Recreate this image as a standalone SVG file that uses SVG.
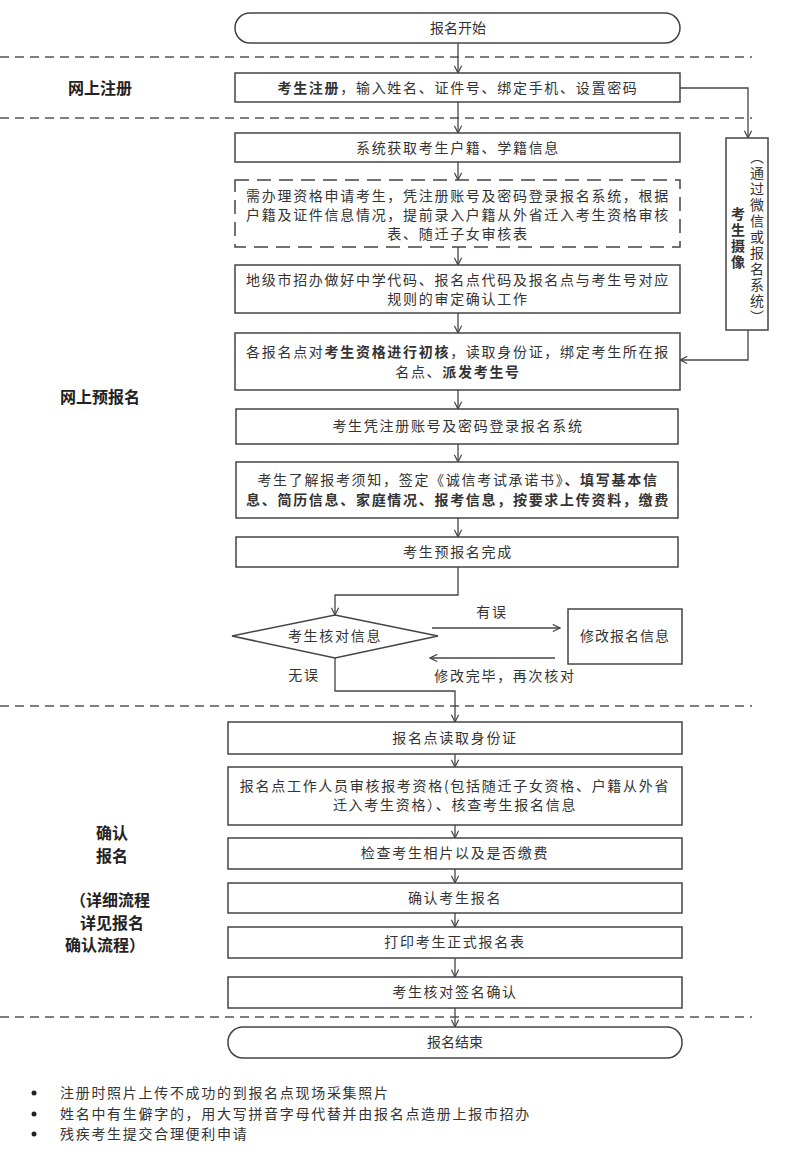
<svg xmlns="http://www.w3.org/2000/svg" width="800" height="1151" viewBox="0 0 800 1151">
<style>
text{font-family:"Noto Sans CJK SC","Noto Sans",sans-serif;font-size:14px;fill:#333;text-anchor:middle;letter-spacing:1.7px}
.b{font-weight:bold}
.t{letter-spacing:0}
.lab{font-size:16px;font-weight:bold;fill:#222;letter-spacing:0}
.n{fill:#fff;stroke:#444;stroke-width:1.5}
.sep{stroke:#555;stroke-width:1.5;stroke-dasharray:9 6;fill:none}
.c{fill:none;stroke:#444;stroke-width:1.3}
.note{text-anchor:start}
</style>
<defs>
<marker id="a" viewBox="0 0 10 10" refX="9" refY="5" markerWidth="9" markerHeight="9" orient="auto" markerUnits="userSpaceOnUse"><path d="M1 1L9 5L1 9" fill="none" stroke="#444" stroke-width="1.3"/></marker>
</defs>
<g id="separators">
<line class="sep" x1="0" y1="57" x2="752" y2="57"/>
<line class="sep" x1="0" y1="118" x2="752" y2="118"/>
<line class="sep" x1="0" y1="706" x2="752" y2="706"/>
<line class="sep" x1="0" y1="1017" x2="752" y2="1017"/>
</g>
<g id="labels">
<text class="lab" x="100" y="94">网上注册</text>
<text class="lab" x="100" y="403">网上预报名</text>
<text class="lab" x="112" y="839">确认</text>
<text class="lab" x="112" y="862">报名</text>
<text class="lab" x="110" y="906">（详细流程</text>
<text class="lab" x="112" y="929">详见报名</text>
<text class="lab" x="105" y="951">确认流程）</text>
</g>
<g id="connectors">
<line class="c" x1="458" y1="43" x2="458" y2="73" marker-end="url(#a)"/>
<line class="c" x1="458" y1="102" x2="458" y2="133" marker-end="url(#a)"/>
<line class="c" x1="458" y1="162" x2="458" y2="180" marker-end="url(#a)"/>
<line class="c" x1="458" y1="247" x2="458" y2="265" marker-end="url(#a)"/>
<line class="c" x1="458" y1="313" x2="458" y2="333" marker-end="url(#a)"/>
<line class="c" x1="458" y1="390" x2="458" y2="409" marker-end="url(#a)"/>
<line class="c" x1="458" y1="444" x2="458" y2="462" marker-end="url(#a)"/>
<line class="c" x1="458" y1="518" x2="458" y2="537" marker-end="url(#a)"/>
<polyline class="c" points="680,88 748,88 748,138" marker-end="url(#a)"/>
<polyline class="c" points="748,330 748,360 680,360" marker-end="url(#a)"/>
<polyline class="c" points="458,567 458,595 335,595 335,615" marker-end="url(#a)"/>
<line class="c" x1="432" y1="628" x2="560" y2="628" marker-end="url(#a)"/>
<line class="c" x1="555" y1="658" x2="430" y2="658" marker-end="url(#a)"/>
<polyline class="c" points="335,658 335,691 455,691 455,722" marker-end="url(#a)"/>
<line class="c" x1="455" y1="754" x2="455" y2="767" marker-end="url(#a)"/>
<line class="c" x1="455" y1="825" x2="455" y2="838" marker-end="url(#a)"/>
<line class="c" x1="455" y1="869" x2="455" y2="883" marker-end="url(#a)"/>
<line class="c" x1="455" y1="913" x2="455" y2="927" marker-end="url(#a)"/>
<line class="c" x1="455" y1="958" x2="455" y2="977" marker-end="url(#a)"/>
<line class="c" x1="455" y1="1008" x2="455" y2="1027" marker-end="url(#a)"/>
<text x="492" y="617">有误</text>
<text x="505" y="681">修改完毕，再次核对</text>
<text x="304" y="680">无误</text>
</g>
<g id="start"><rect class="n" x="235" y="13" width="445" height="30" rx="15"/><text class="t" x="458" y="33">报名开始</text></g>
<g id="register"><rect class="n" x="235" y="73" width="445" height="29"/><text x="458" y="93"><tspan class="b">考生注册</tspan>，输入姓名、证件号、绑定手机、设置密码</text></g>
<g id="fetch"><rect class="n" x="235" y="133" width="445" height="29"/><text x="458" y="153">系统获取考生户籍、学籍信息</text></g>
<g id="apply"><rect class="n" x="235" y="180" width="445" height="67" stroke-dasharray="14 8"/>
<text x="458" y="201">需办理资格申请考生，凭注册账号及密码登录报名系统，根据</text>
<text x="458" y="220">户籍及证件信息情况，提前录入户籍从外省迁入考生资格审核</text>
<text x="458" y="239">表、随迁子女审核表</text></g>
<g id="city"><rect class="n" x="235" y="265" width="445" height="48"/>
<text x="458" y="285">地级市招办做好中学代码、报名点代码及报名点与考生号对应</text>
<text x="458" y="304">规则的审定确认工作</text></g>
<g id="check1"><rect class="n" x="235" y="333" width="445" height="57"/>
<text x="458" y="357">各报名点对<tspan class="b">考生资格进行初核</tspan>，读取身份证，绑定考生所在报</text>
<text x="458" y="377">名点、<tspan class="b">派发考生号</tspan></text></g>
<g id="photo"><rect class="n" x="726" y="138" width="42" height="192"/>
<text x="757" y="150" style="writing-mode:vertical-rl;letter-spacing:2px;text-anchor:start">（通过微信或报名系统）</text>
<text class="b" x="738" y="207" style="writing-mode:vertical-rl;letter-spacing:2px;text-anchor:start">考生摄像</text></g>
<g id="login"><rect class="n" x="236" y="409" width="442" height="35"/><text x="458" y="431">考生凭注册账号及密码登录报名系统</text></g>
<g id="fill"><rect class="n" x="236" y="462" width="442" height="56"/>
<text x="458" y="485">考生了解报考须知，签定《诚信考试承诺书》<tspan class="b">、填写基本信</tspan></text>
<text x="458" y="505" class="b">息、简历信息、家庭情况、报考信息，按要求上传资料，缴费</text></g>
<g id="done"><rect class="n" x="236" y="537" width="442" height="30"/><text x="458" y="557">考生预报名完成</text></g>
<g id="verify"><polygon class="n" points="232,636 335,615 438,636 335,658"/><text x="335" y="641">考生核对信息</text></g>
<g id="modify"><rect class="n" x="568" y="609" width="114" height="55"/><text x="625" y="641" style="letter-spacing:1px">修改报名信息</text></g>
<g id="readid"><rect class="n" x="228" y="722" width="454" height="32"/><text x="455" y="743">报名点读取身份证</text></g>
<g id="audit"><rect class="n" x="228" y="767" width="454" height="58"/>
<text x="455" y="791">报名点工作人员审核报考资格(包括随迁子女资格、户籍从外省</text>
<text x="455" y="810">迁入考生资格）、核查考生报名信息</text></g>
<g id="photocheck"><rect class="n" x="228" y="838" width="454" height="31"/><text x="455" y="858">检查考生相片以及是否缴费</text></g>
<g id="confirm"><rect class="n" x="228" y="883" width="454" height="30"/><text x="455" y="903">确认考生报名</text></g>
<g id="print"><rect class="n" x="228" y="927" width="454" height="31"/><text x="455" y="947">打印考生正式报名表</text></g>
<g id="sign"><rect class="n" x="228" y="977" width="454" height="31"/><text x="455" y="997">考生核对签名确认</text></g>
<g id="end"><rect class="n" x="228" y="1027" width="454" height="31" rx="15"/><text class="t" x="455" y="1047">报名结束</text></g>
<g id="notes">
<circle cx="34" cy="1093" r="2.5" fill="#222"/><text class="note" x="60" y="1098">注册时照片上传不成功的到报名点现场采集照片</text>
<circle cx="34" cy="1114" r="2.5" fill="#222"/><text class="note" x="60" y="1119">姓名中有生僻字的，用大写拼音字母代替并由报名点造册上报市招办</text>
<circle cx="34" cy="1134" r="2.5" fill="#222"/><text class="note" x="60" y="1139">残疾考生提交合理便利申请</text>
</g>
</svg>
